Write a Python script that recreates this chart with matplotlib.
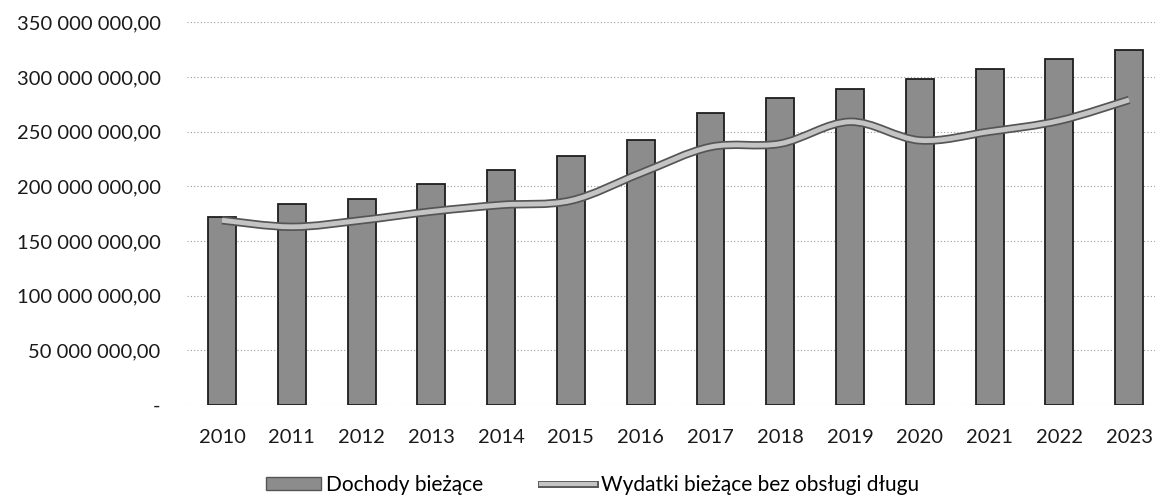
import numpy as np
import matplotlib.pyplot as plt
from matplotlib.path import Path
from matplotlib.patches import PathPatch, Patch
from matplotlib.lines import Line2D
import matplotlib.patheffects as pe

plt.rcParams['font.family'] = ['Lato', 'DejaVu Sans']

years = ["2010", "2011", "2012", "2013", "2014", "2015", "2016",
         "2017", "2018", "2019", "2020", "2021", "2022", "2023"]
dochody = [171.8, 183.7, 188.0, 202.0, 214.8, 227.6, 242.0,
           266.9, 280.6, 288.8, 298.0, 307.0, 316.0, 325.0]
wydatki = [169.0, 163.0, 169.0, 177.0, 183.0, 187.0, 212.0,
           236.0, 239.0, 259.0, 242.0, 250.0, 260.0, 279.0]
dochody = np.array(dochody) * 1e6
wydatki = np.array(wydatki) * 1e6


def fmt(v, pos=None):
    if v == 0:
        return "-"
    s = f"{int(round(v)):,}".replace(",", " ")
    return s + ",00"


def smooth_path(xs, ys):
    # Catmull-Rom -> cubic bezier, like Excel's smoothed line
    pts = np.column_stack([xs, ys])
    verts = [pts[0]]
    codes = [Path.MOVETO]
    n = len(pts)
    for i in range(n - 1):
        p0 = pts[i - 1] if i > 0 else pts[i]
        p1 = pts[i]
        p2 = pts[i + 1]
        p3 = pts[i + 2] if i + 2 < n else pts[i + 1]
        c1 = p1 + (p2 - p0) / 6
        c2 = p2 - (p3 - p1) / 6
        verts += [c1, c2, p2]
        codes += [Path.CURVE4] * 3
    return Path(verts, codes)


fig = plt.figure(figsize=(11.55, 5.04), dpi=100)
ax = fig.add_axes([0.162, 0.196, 0.838, 0.760])

x = np.arange(len(years))
ax.bar(x, dochody, width=0.4, color="#8c8c8c", edgecolor="#1e1e1e",
       linewidth=1.3, zorder=2)

line = PathPatch(smooth_path(x, wydatki), facecolor="none",
                 edgecolor="#c4c4c4", linewidth=3.5, zorder=3,
                 path_effects=[pe.Stroke(linewidth=6, foreground="#555555"),
                               pe.Normal()])
ax.add_patch(line)

ax.set_ylim(0, 350e6)
ax.set_xlim(-0.5, 13.37)
ax.set_yticks(np.arange(0, 351e6, 50e6))
ax.yaxis.set_major_formatter(plt.FuncFormatter(fmt))
ax.set_xticks(x)
ax.set_xticklabels(years)
ax.tick_params(length=0, labelsize=14.5, colors="#1a1a1a")
ax.tick_params(axis="y", pad=19)
ax.tick_params(axis="x", pad=17)
ax.grid(axis="y", color="#9a9a9a", linestyle=(0, (1, 2)), linewidth=0.8, zorder=0)
for s in ax.spines.values():
    s.set_visible(False)

handles = [Patch(facecolor="#8c8c8c", edgecolor="#555555"),
           Line2D([], [], color="#c4c4c4", linewidth=3,
                  path_effects=[pe.Stroke(linewidth=5, foreground="#555555"), pe.Normal()])]
fig.legend(handles, ["Dochody bieżące", "Wydatki bieżące bez obsługi długu"],
           loc="center", bbox_to_anchor=(0.513, 0.038), ncol=2, frameon=False,
           fontsize=15, handlelength=2.6, handleheight=0.6,
           handletextpad=0.25, columnspacing=2.8)

fig.savefig("out.png", dpi=100)
